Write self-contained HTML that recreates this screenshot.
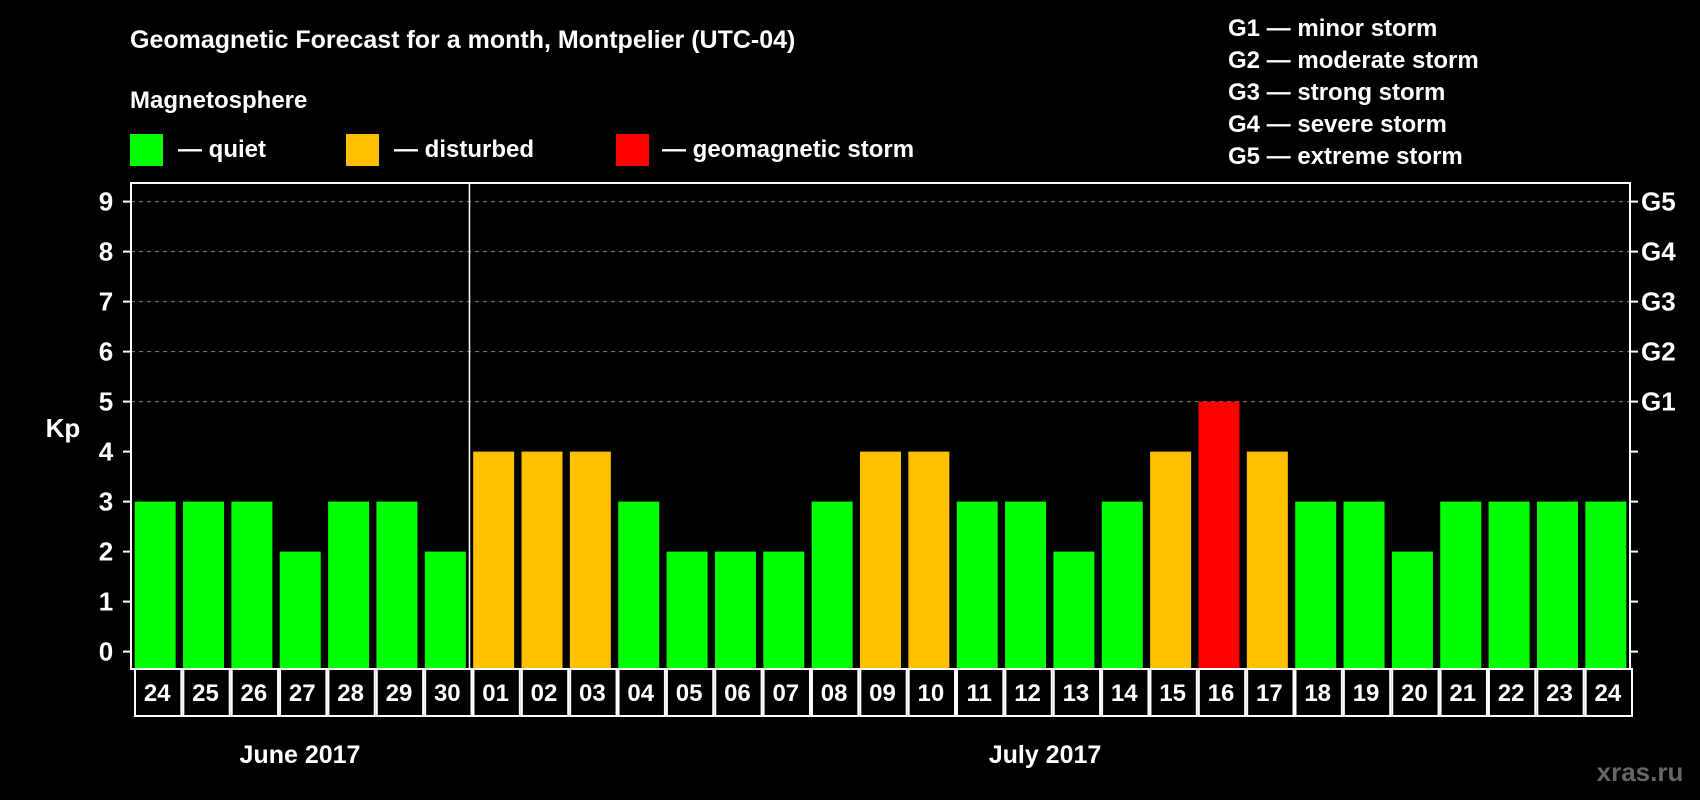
<!DOCTYPE html>
<html><head><meta charset="utf-8"><style>
html,body{margin:0;padding:0;background:#000;width:1700px;height:800px;overflow:hidden}
svg{display:block;font-family:"Liberation Sans",Arial,sans-serif;font-weight:bold}
</style></head><body>
<svg id="chart" width="1700" height="800">
<rect width="1700" height="800" fill="#000"/>
<text x="130" y="48" fill="#fff" font-size="25">Geomagnetic Forecast for a month, Montpelier (UTC-04)</text>
<text x="130" y="108" fill="#fff" font-size="24">Magnetosphere</text>
<g><rect x="130" y="134" width="33" height="32" fill="#00ff00"/><text x="178" y="157" fill="#fff" font-size="24">— quiet</text></g>
<g><rect x="346" y="134" width="33" height="32" fill="#ffc000"/><text x="394" y="157" fill="#fff" font-size="24">— disturbed</text></g>
<g><rect x="616" y="134" width="33" height="32" fill="#ff0000"/><text x="662" y="157" fill="#fff" font-size="24">— geomagnetic storm</text></g>
<g fill="#fff" font-size="24">
<text x="1228" y="36">G1 — minor storm</text>
<text x="1228" y="68">G2 — moderate storm</text>
<text x="1228" y="100">G3 — strong storm</text>
<text x="1228" y="132">G4 — severe storm</text>
<text x="1228" y="164">G5 — extreme storm</text>
</g>
<text x="63" y="437" fill="#fff" font-size="26" text-anchor="middle">Kp</text>
<text x="300" y="763" fill="#fff" font-size="25" text-anchor="middle">June 2017</text>
<text x="1045" y="763" fill="#fff" font-size="25" text-anchor="middle">July 2017</text>
<text x="1640" y="781" fill="#666" font-size="26" text-anchor="middle">xras.ru</text>
<g id="plot"></g>
</svg>
<script>
const days=["24","25","26","27","28","29","30","01","02","03","04","05","06","07","08","09","10","11","12","13","14","15","16","17","18","19","20","21","22","23","24"];
const kpValues=[3,3,3,2,3,3,2,4,4,4,3,2,2,2,3,4,4,3,3,2,3,4,5,4,3,3,2,3,3,3,3];
const yTicks=[0,1,2,3,4,5,6,7,8,9];
const gLabels=["G1","G2","G3","G4","G5"];
const L=131,R=1630,T=183,B=669,Y0=651.6,PU=50;
const pitch=(R-L)/days.length;
function y(v){return Y0-v*PU;}
function xc(i){return L+pitch*(i+0.5);}
const NS="http://www.w3.org/2000/svg";
const g=document.getElementById('plot');
function mk(t,a,p){const e=document.createElementNS(NS,t);for(const k in a)e.setAttribute(k,a[k]);(p||g).appendChild(e);return e;}
// grid
for(let v=5;v<=9;v++){
 const l=mk('line',{x1:L,x2:R,y1:y(v),y2:y(v),stroke:'#888','stroke-dasharray':'4,4','stroke-width':1});
 
 
}
// bars
kpValues.forEach((v,i)=>{
 const c=v>=5?'#ff0000':(v>=4?'#ffc000':'#00ff00');
 const r=mk('rect',{x:xc(i)-20.5,y:y(v),width:41,height:B-y(v),fill:c});
 
 
});
// frame
const f=mk('rect',{x:L,y:T,width:R-L,height:B-T,fill:'none',stroke:'#fff','stroke-width':2});


const sep=mk('line',{x1:L+pitch*7,x2:L+pitch*7,y1:T,y2:B,stroke:'#fff','stroke-width':1.5});


// y ticks
yTicks.forEach(v=>{
 mk('line',{x1:L-8,x2:L,y1:y(v),y2:y(v),stroke:'#fff','stroke-width':2});
 mk('line',{x1:R,x2:R+8,y1:y(v),y2:y(v),stroke:'#fff','stroke-width':2});
 const t=mk('text',{x:106,y:y(v)+9,fill:'#fff','font-size':26,'text-anchor':'middle'});
 t.textContent=v;
 
 
});
gLabels.forEach((s,i)=>{
 const t=mk('text',{x:1641,y:y(i+5)+9,fill:'#fff','font-size':26});
 t.textContent=s;
 
 
});
// day cells
days.forEach((d,i)=>{
 const x0=L+pitch*i;
 const r=mk('rect',{x:x0+4,y:B,width:pitch-2,height:47,fill:'none',stroke:'#fff','stroke-width':2});
 
 
 const t=mk('text',{x:xc(i)+2,y:B+32,fill:'#fff','font-size':24,'text-anchor':'middle'});
 t.textContent=d;
 
 
});
</script>
</body></html>
